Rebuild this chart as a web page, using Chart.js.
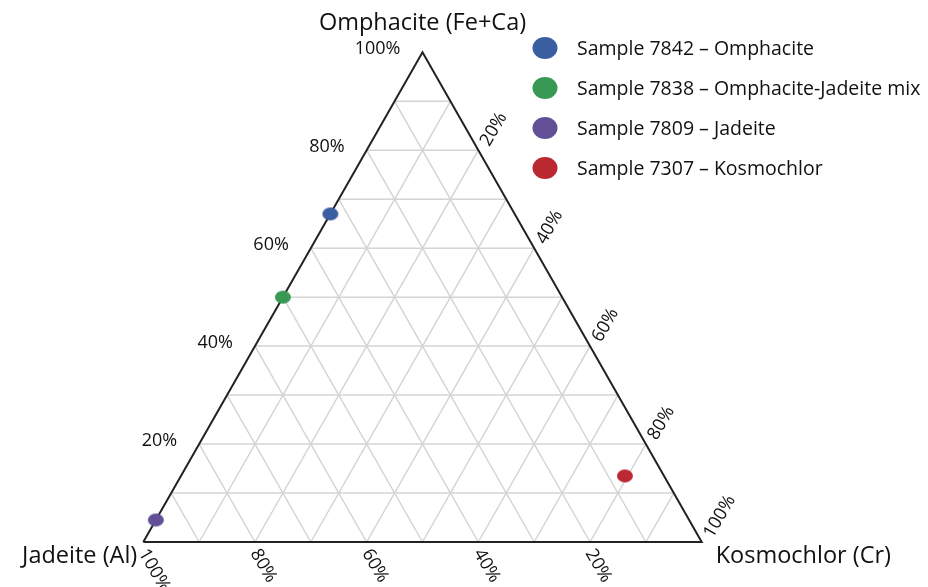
<!DOCTYPE html>
<html>
<head>
<meta charset="utf-8">
<script src="https://cdn.jsdelivr.net/npm/chart.js@4.4.1/dist/chart.umd.min.js"></script>
<style>
  html, body { margin: 0; padding: 0; background: #fff; }
  #wrap { width: 928px; height: 587px; position: relative; }
</style>
</head>
<body>
<div id="wrap"><canvas id="ternary" width="928" height="587"></canvas></div>
<script>
// Components (vertices of the triangle)
const apexTop = 'Omphacite (Fe+Ca)';
const apexLeft = 'Jadeite (Al)';
const apexRight = 'Kosmochlor (Cr)';

// Samples, composition in %
const sampleNames = [
  'Sample 7842 – Omphacite',
  'Sample 7838 – Omphacite-Jadeite mix',
  'Sample 7809 – Jadeite',
  'Sample 7307 – Kosmochlor'
];
const omphacite = [67, 50, 4.5, 13.5];
const jadeite = [33, 50, 95.5, 7];
const kosmochlor = [0, 0, 0, 79.5];
const sampleColors = ['#3a5e9f', '#389955', '#634f96', '#ba2832'];

// Grid lines every 10%, tick labels every 20%
const gridSteps = [10, 20, 30, 40, 50, 60, 70, 80, 90];
const tickValues = [20, 40, 60, 80, 100];

const FONT = '"Open Sans", "DejaVu Sans", sans-serif';

// ternary (omph, jad, kos in %) -> plot coordinates (x along base, y up)
function toXY(o, j, k) {
  const s = o + j + k;
  return { x: (k + o / 2) / s, y: o / s };
}

// Ellipse marker drawn on a small canvas, used as pointStyle
function ellipseMarker(color, w, h) {
  const c = document.createElement('canvas');
  c.width = w + 2; c.height = h + 2;
  const g = c.getContext('2d');
  g.fillStyle = color;
  g.beginPath();
  g.ellipse(c.width / 2, c.height / 2, w / 2, h / 2, 0, 0, Math.PI * 2);
  g.fill();
  return c;
}

const datasets = [];

// grid lines (drawn first -> highest order)
gridSteps.forEach(v => {
  const lines = [
    [toXY(v, 100 - v, 0), toXY(v, 0, 100 - v)],     // constant omphacite
    [toXY(0, 100 - v, v), toXY(100 - v, 0, v)],     // constant kosmochlor
    [toXY(0, v, 100 - v), toXY(100 - v, v, 0)]      // constant jadeite
  ];
  lines.forEach(pts => datasets.push({
    type: 'line', data: pts, borderColor: '#d4d4d4', borderWidth: 1.5,
    pointRadius: 0, fill: false, clip: false, order: 3
  }));
});

// triangle outline
datasets.push({
  type: 'line',
  data: [toXY(0, 100, 0), toXY(100, 0, 0), toXY(0, 0, 100), toXY(0, 100, 0)],
  borderColor: '#222', borderWidth: 2, pointRadius: 0, fill: false, clip: false,
  borderJoinStyle: 'miter', order: 2
});

// samples
sampleNames.forEach((name, i) => {
  datasets.push({
    type: 'scatter',
    label: name,
    data: [toXY(omphacite[i], jadeite[i], kosmochlor[i])],
    backgroundColor: sampleColors[i],
    pointStyle: ellipseMarker(sampleColors[i], 16, 13),
    clip: false,
    order: 1,
    isSample: true
  });
});

// labels, tick texts and legend
const ternaryLabels = {
  id: 'ternaryLabels',
  afterDatasetsDraw(chart) {
    const { ctx, scales: { x, y } } = chart;
    const px = p => ({ x: x.getPixelForValue(p.x), y: y.getPixelForValue(p.y) });
    ctx.save();
    ctx.fillStyle = '#111';

    // left edge: omphacite ticks, horizontal
    ctx.font = '18px ' + FONT;
    ctx.textAlign = 'right';
    ctx.textBaseline = 'middle';
    tickValues.forEach(v => {
      const p = px(toXY(v, 100 - v, 0));
      ctx.fillText(v + '%', p.x - 22, p.y - 3);
    });

    // bottom edge: jadeite ticks, rotated +60deg
    ctx.textAlign = 'left';
    ctx.textBaseline = 'alphabetic';
    tickValues.forEach(v => {
      const p = px(toXY(0, v, 100 - v));
      ctx.save();
      ctx.translate(p.x - 5, p.y + 11);
      ctx.rotate(Math.PI / 3);
      ctx.fillText(v + '%', 0, 0);
      ctx.restore();
    });

    // right edge: kosmochlor ticks, rotated -60deg
    tickValues.forEach(v => {
      const p = px(toXY(100 - v, 0, v));
      ctx.save();
      ctx.translate(p.x + 11, p.y - 3);
      ctx.rotate(-Math.PI / 3);
      ctx.fillText(v + '%', 0, 0);
      ctx.restore();
    });

    // vertex titles
    ctx.font = '23.5px ' + FONT;
    const top = px(toXY(100, 0, 0));
    const bl = px(toXY(0, 100, 0));
    const br = px(toXY(0, 0, 100));
    ctx.textAlign = 'center';
    ctx.fillText(apexTop, top.x, 30);
    ctx.textAlign = 'right';
    ctx.fillText(apexLeft, bl.x - 6, bl.y + 21);
    ctx.textAlign = 'left';
    ctx.fillText(apexRight, br.x + 14, br.y + 21);

    // legend
    ctx.font = '19.5px ' + FONT;
    ctx.textBaseline = 'middle';
    let row = 0;
    chart.data.datasets.forEach(ds => {
      if (!ds.isSample) return;
      const cy = 48 + row * 40;
      ctx.fillStyle = ds.backgroundColor;
      ctx.beginPath();
      ctx.ellipse(545, cy, 12.5, 11, 0, 0, Math.PI * 2);
      ctx.fill();
      ctx.fillStyle = '#111';
      ctx.fillText(ds.label, 577, cy + 1);
      row++;
    });
    ctx.restore();
  }
};

new Chart(document.getElementById('ternary'), {
  type: 'scatter',
  data: { datasets },
  options: {
    responsive: false,
    animation: false,
    events: [],
    layout: { padding: { left: 143.3, right: 226.3, top: 52.3, bottom: 45 } },
    scales: {
      x: { type: 'linear', min: 0, max: 1, display: false },
      y: { type: 'linear', min: 0, max: 1, display: false }
    },
    plugins: { legend: { display: false }, tooltip: { enabled: false } }
  },
  plugins: [ternaryLabels]
});
</script>
</body>
</html>
